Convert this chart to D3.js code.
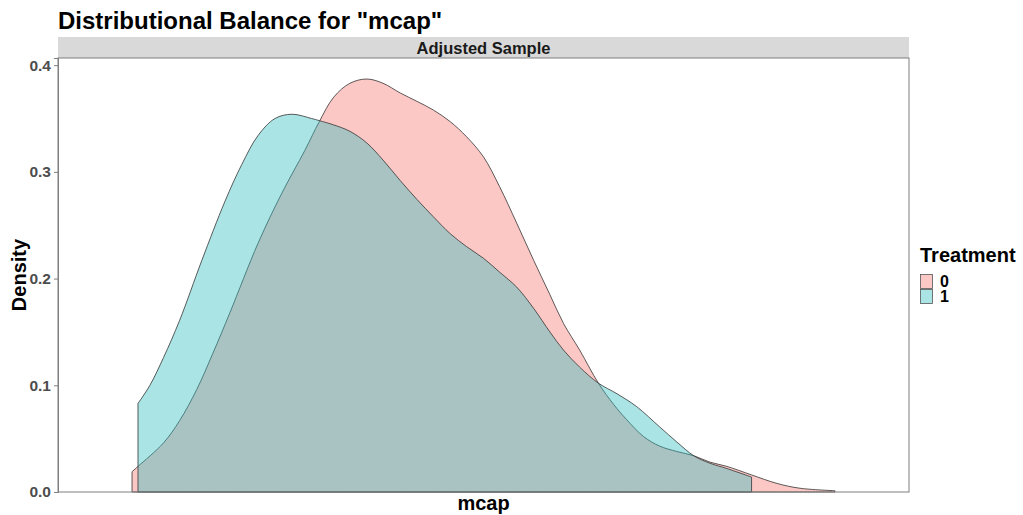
<!DOCTYPE html>
<html>
<head>
<meta charset="utf-8">
<script src="https://cdn.jsdelivr.net/npm/d3@7"></script>
<style>
  body { margin: 0; background: #fff; }
  text { font-family: "Liberation Sans", Arial, sans-serif; font-weight: bold; }
</style>
</head>
<body>
<div id="chart"></div>
<script>
// treatment groups and their fill colours
var groups = ["0", "1"];
var fills = ["#F8766D", "#2DBCBE"];

// density curve for treatment 0 (x in arbitrary mcap units, y = density)
var x0 = [0.87, 0.94, 1.24, 1.43, 1.63, 1.82, 2.02, 2.35, 2.63, 2.90, 3.07, 3.24, 3.43, 3.63, 3.82, 4.02, 4.22, 4.41, 4.61, 4.80, 5.00, 5.19, 5.39, 5.59, 5.78, 5.94, 6.13, 6.35, 6.53, 6.68, 6.88, 7.07, 7.27, 7.47, 7.66, 7.86, 8.15, 8.45, 8.72, 9.13];
var y0 = [0.019, 0.024, 0.046, 0.067, 0.096, 0.130, 0.168, 0.233, 0.280, 0.320, 0.347, 0.370, 0.383, 0.387, 0.383, 0.374, 0.366, 0.358, 0.347, 0.333, 0.314, 0.286, 0.252, 0.217, 0.185, 0.158, 0.133, 0.102, 0.082, 0.068, 0.052, 0.043, 0.038, 0.034, 0.028, 0.024, 0.016, 0.008, 0.0035, 0.0012];

// density curve for treatment 1
var x1 = [0.94, 1.08, 1.24, 1.43, 1.69, 1.96, 2.16, 2.35, 2.55, 2.75, 2.98, 3.07, 3.24, 3.43, 3.63, 3.82, 4.02, 4.22, 4.41, 4.61, 4.80, 5.00, 5.19, 5.39, 5.59, 5.78, 5.94, 6.13, 6.35, 6.57, 6.80, 7.07, 7.27, 7.47, 7.66, 7.86, 8.15];
var y1 = [0.083, 0.100, 0.126, 0.161, 0.217, 0.272, 0.307, 0.334, 0.350, 0.354, 0.350, 0.348, 0.344, 0.338, 0.327, 0.311, 0.292, 0.274, 0.258, 0.242, 0.230, 0.219, 0.206, 0.192, 0.172, 0.150, 0.133, 0.117, 0.102, 0.092, 0.080, 0.061, 0.047, 0.034, 0.027, 0.022, 0.014];

var yTicks = [0, 0.1, 0.2, 0.3, 0.4];

var width = 1023, height = 515;
var pLeft = 58, pRight = 909, pTop = 58, pBottom = 492;

var svg = d3.select("#chart").append("svg")
  .attr("width", width)
  .attr("height", height);

var x = d3.scaleLinear().domain([0, 10]).range([pLeft, pRight]);
var y = d3.scaleLinear().domain([0, 0.4067]).range([pBottom, pTop]);

// title
svg.append("text")
  .attr("x", pLeft)
  .attr("y", 29)
  .style("font-size", "24px")
  .style("fill", "#000")
  .text('Distributional Balance for "mcap"');

// facet strip
svg.append("rect")
  .attr("x", pLeft).attr("y", 37)
  .attr("width", pRight - pLeft).attr("height", pTop - 37)
  .attr("fill", "#d9d9d9");
svg.append("text")
  .attr("x", (pLeft + pRight) / 2)
  .attr("y", 53.5)
  .attr("text-anchor", "middle")
  .style("font-size", "16.5px")
  .style("fill", "#1a1a1a")
  .text("Adjusted Sample");

// panel background
svg.append("rect")
  .attr("x", pLeft).attr("y", pTop)
  .attr("width", pRight - pLeft).attr("height", pBottom - pTop)
  .attr("fill", "#fff");

var area = d3.area()
  .x(function(d) { return x(d[0]); })
  .y0(y(0))
  .y1(function(d) { return y(d[1]); })
  .curve(d3.curveCatmullRom.alpha(0.5));

var series = [d3.zip(x0, y0), d3.zip(x1, y1)];

svg.selectAll(".dens")
  .data(series)
  .enter().append("path")
  .attr("class", "dens")
  .attr("d", area)
  .attr("fill", function(d, i) { return fills[i]; })
  .attr("fill-opacity", 0.4)
  .attr("stroke", "#333")
  .attr("stroke-width", 0.8);

// panel border
svg.append("rect")
  .attr("x", pLeft).attr("y", pTop)
  .attr("width", pRight - pLeft).attr("height", pBottom - pTop)
  .attr("fill", "none")
  .attr("stroke", "#7f7f7f")
  .attr("stroke-width", 1);

// y axis
var yAxis = svg.append("g")
  .attr("transform", "translate(" + pLeft + ",0)")
  .call(d3.axisLeft(y).tickValues(yTicks).tickFormat(d3.format(".1f")).tickSize(4).tickPadding(3));
yAxis.select(".domain").attr("stroke", "#7f7f7f");
yAxis.selectAll(".tick line").attr("stroke", "#7f7f7f");
yAxis.selectAll(".tick text")
  .style("font-size", "15.5px")
  .style("font-family", '"Liberation Sans", Arial, sans-serif')
  .style("font-weight", "bold")
  .attr("fill", "#4d4d4d");

// axis titles
svg.append("text")
  .attr("transform", "translate(26," + ((pTop + pBottom) / 2) + ") rotate(-90)")
  .attr("text-anchor", "middle")
  .style("font-size", "20px")
  .text("Density");

svg.append("text")
  .attr("x", (pLeft + pRight) / 2)
  .attr("y", 510)
  .attr("text-anchor", "middle")
  .style("font-size", "20px")
  .text("mcap");

// legend
var legend = svg.append("g").attr("transform", "translate(920,0)");
legend.append("text")
  .attr("x", 0).attr("y", 262)
  .style("font-size", "20px")
  .text("Treatment");

var keys = legend.selectAll(".key")
  .data(groups)
  .enter().append("g")
  .attr("class", "key")
  .attr("transform", function(d, i) { return "translate(0," + (274 + i * 15) + ")"; });
keys.append("rect")
  .attr("x", 0.5).attr("y", 0.5)
  .attr("width", 12).attr("height", 14)
  .attr("fill", function(d, i) { return fills[i]; })
  .attr("fill-opacity", 0.4)
  .attr("stroke", "#555")
  .attr("stroke-width", 0.8);
keys.append("text")
  .attr("x", 20).attr("y", 13)
  .style("font-size", "16px")
  .text(function(d) { return d; });
</script>
</body>
</html>
